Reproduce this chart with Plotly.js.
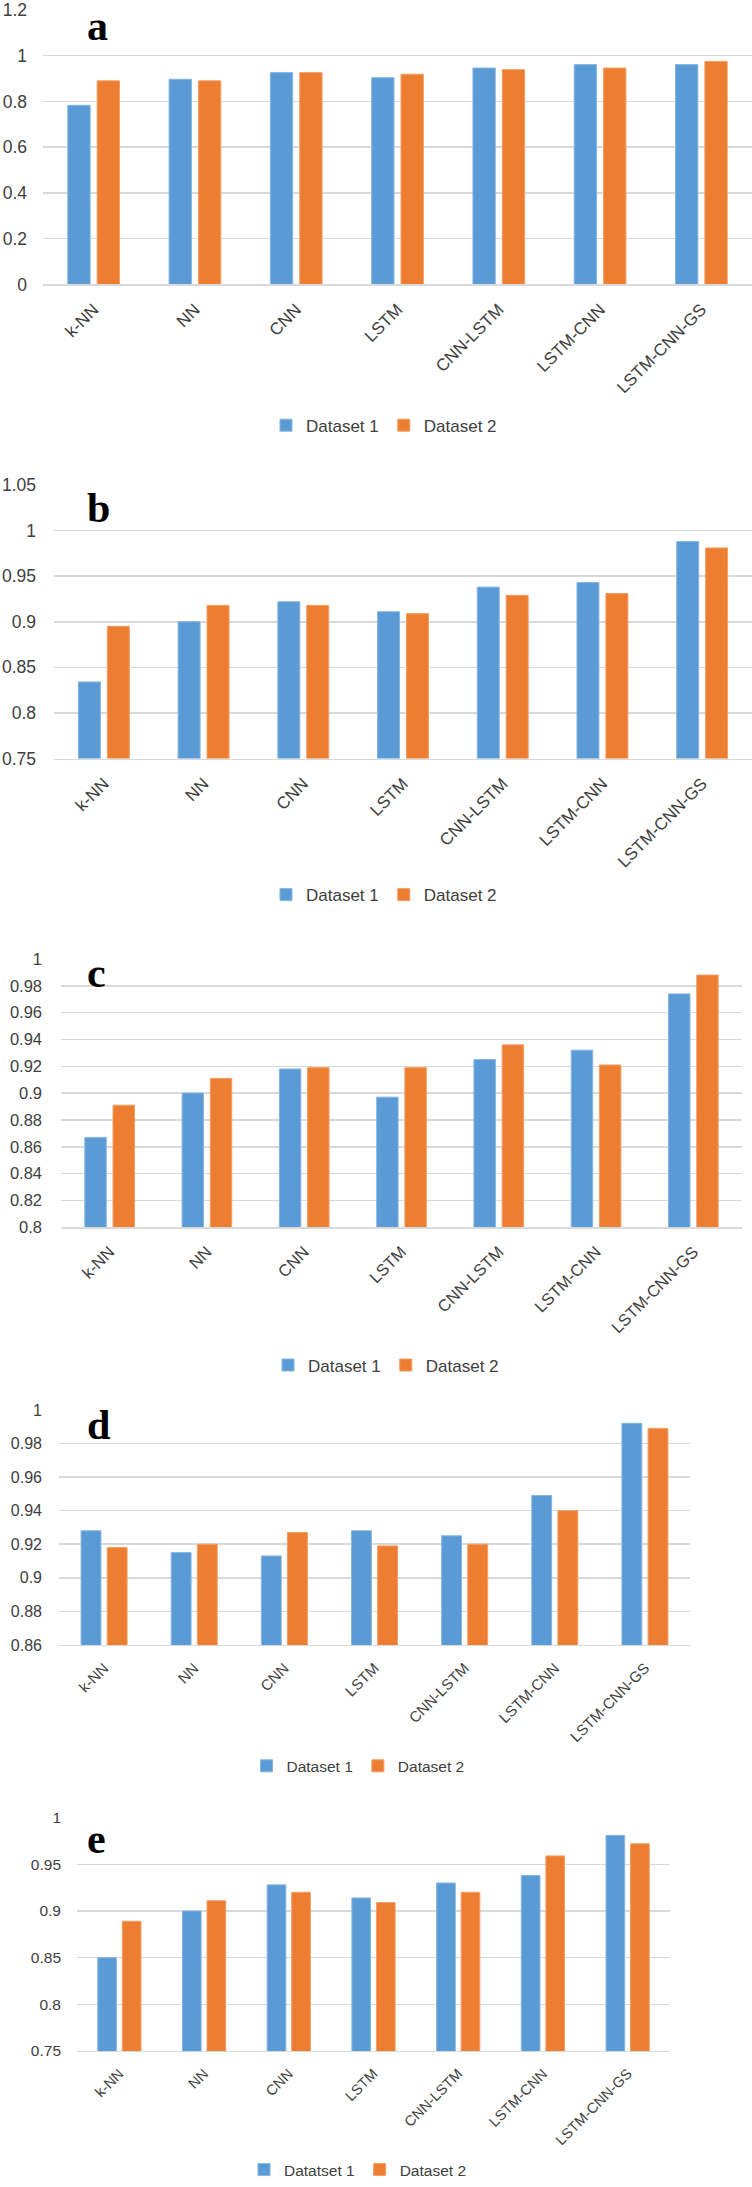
<!DOCTYPE html>
<html>
<head>
<meta charset="utf-8">
<script src="https://cdn.plot.ly/plotly-3.0.1.min.js"></script>
<style>html,body{margin:0;padding:0;background:#fff}#chart{width:752px;height:2187px}</style>
</head>
<body>
<div id="chart"></div>
<script>
// ---- data ----
const categories = ['k-NN', 'NN', 'CNN', 'LSTM', 'CNN-LSTM', 'LSTM-CNN', 'LSTM-CNN-GS'];
const panelLetters = ['a', 'b', 'c', 'd', 'e'];
const seriesNames = ['Dataset 1', 'Dataset 2'];
const seriesNamesE = ['Datatset 1', 'Dataset 2'];

const aDataset1 = [0.783, 0.897, 0.926, 0.904, 0.946, 0.961, 0.961];
const aDataset2 = [0.890, 0.890, 0.926, 0.919, 0.939, 0.946, 0.975];
const bDataset1 = [0.834, 0.900, 0.922, 0.911, 0.938, 0.943, 0.988];
const bDataset2 = [0.895, 0.918, 0.918, 0.909, 0.929, 0.931, 0.981];
const cDataset1 = [0.867, 0.900, 0.918, 0.897, 0.925, 0.932, 0.974];
const cDataset2 = [0.891, 0.911, 0.919, 0.919, 0.936, 0.921, 0.988];
const dDataset1 = [0.928, 0.915, 0.913, 0.928, 0.925, 0.949, 0.992];
const dDataset2 = [0.918, 0.920, 0.927, 0.919, 0.920, 0.940, 0.989];
const eDataset1 = [0.850, 0.900, 0.928, 0.914, 0.930, 0.938, 0.981];
const eDataset2 = [0.889, 0.911, 0.920, 0.909, 0.920, 0.959, 0.972];

const yRanges = [[0, 1.2], [0.75, 1.05], [0.8, 1.0], [0.86, 1.0], [0.75, 1.0]];
const yTick0 = [0, 0.75, 0.8, 0.86, 0.75];
const yDtick = [0.2, 0.05, 0.02, 0.02, 0.05];

// ---- layout geometry (pixels) ----
const W = 752, H = 2187;
const px = v => v / W;
const py = v => 1 - v / H;
const panels = [
  {x0: 43, x1: 752, yTop: 10,    yBot: 286,    legY: 428,  legX: 384, letterY: 26,   yFont: 17.5, xFont: 17,   legFont: 17,   yStand: 15},
  {x0: 54, x1: 752, yTop: 487.7, yBot: 762.7,  legY: 900,  legX: 384, letterY: 511,  yFont: 17.5, xFont: 17,   legFont: 17,   yStand: 17},
  {x0: 61, x1: 742, yTop: 964.3, yBot: 1234,   legY: 1373, legX: 386, letterY: 978,  yFont: 16.5, xFont: 16.5, legFont: 17,   yStand: 18},
  {x0: 59, x1: 690, yTop: 1417.7,yBot: 1654,   legY: 1776, legX: 358, letterY: 1433, yFont: 16,   xFont: 15,   legFont: 15.5, yStand: 16},
  {x0: 77, x1: 670, yTop: 1827.7,yBot: 2062.3, legY: 2182, legX: 358, letterY: 1849, yFont: 15.5, xFont: 14.5, legFont: 15.5, yStand: 15}
];

const allSeries = [
  [aDataset1, aDataset2], [bDataset1, bDataset2], [cDataset1, cDataset2],
  [dDataset1, dDataset2], [eDataset1, eDataset2]
];
const colors = ['#5B9BD5', '#ED7D31'];
const edgeColors = ['#85b5e2', '#f39d62'];
const FONT = 'Liberation Sans, Arial, sans-serif';
const TXT = '#404040';

const traces = [];
const layout = {
  width: W, height: H,
  margin: {l: 0, r: 0, t: 0, b: 0},
  paper_bgcolor: '#ffffff', plot_bgcolor: '#ffffff',
  barmode: 'group', bargap: 0.42, bargroupgap: 0.24,
  font: {family: FONT, color: TXT},
  annotations: []
};

panels.forEach((p, i) => {
  const n = i === 0 ? '' : String(i + 1);
  const legName = 'legend' + n;
  const names = i === 4 ? seriesNamesE : seriesNames;
  allSeries[i].forEach((vals, k) => {
    traces.push({
      type: 'bar', x: categories, y: vals, name: names[k],
      xaxis: 'x' + n, yaxis: 'y' + n, legend: legName,
      marker: {color: colors[k], line: {color: edgeColors[k], width: 1}},
      hoverinfo: 'x+y+name'
    });
  });
  layout['xaxis' + n] = {
    domain: [px(p.x0), px(p.x1)], anchor: 'y' + n, type: 'category',
    tickangle: -45, showgrid: false, showline: true, linecolor: '#d9d9d9', linewidth: 1.5,
    ticks: '', ticklabelstandoff: 7, tickfont: {family: FONT, size: p.xFont, color: TXT},
    fixedrange: true
  };
  layout['yaxis' + n] = {
    domain: [py(p.yBot), py(p.yTop)], anchor: 'x' + n, range: yRanges[i],
    tickmode: 'linear', tick0: yTick0[i], dtick: yDtick[i],
    showgrid: true, gridcolor: '#d9d9d9', gridwidth: 1.5, zeroline: false, showline: false,
    ticks: '', ticklabelstandoff: p.yStand, tickfont: {family: FONT, size: p.yFont, color: TXT},
    fixedrange: true
  };
  layout[legName] = {
    orientation: 'h', x: px(p.legX), xanchor: 'center', y: py(p.legY), yanchor: 'middle',
    font: {family: FONT, size: p.legFont, color: TXT}, itemwidth: 30, bgcolor: 'rgba(0,0,0,0)'
  };
  layout.annotations.push({
    xref: 'paper', yref: 'paper', x: px(85), y: py(p.letterY),
    xanchor: 'left', yanchor: 'middle', showarrow: false,
    text: '<b>' + panelLetters[i] + '</b>',
    font: {family: 'Liberation Serif, Times New Roman, serif', size: 42, color: '#000000'}
  });
});

Plotly.newPlot('chart', traces, layout, {displayModeBar: false, staticPlot: true});
</script>
</body>
</html>
